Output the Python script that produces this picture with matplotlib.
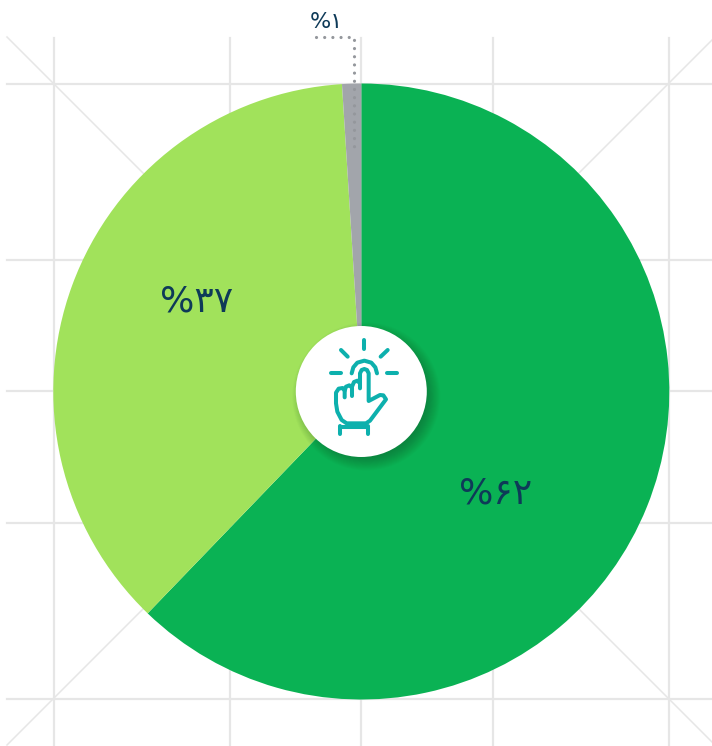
import numpy as np
import matplotlib
matplotlib.use('Agg')
import matplotlib.pyplot as plt
from matplotlib.patches import Circle

W, H = 712, 746

shares = [62.2, 36.8, 1]
labels = ['%۶۲', '%۳۷', '%۱']
colors = ['#0ab254', '#a1e25b', '#a2a5ab']
label_pos = [(496, 494), (197, 302), (326, 22)]
label_size = [26, 26, 16]

grid_x = [54, 230, 361, 493, 669]
grid_y = [84, 260, 391, 523, 699]

cx, cy, radius = 361.3, 391.5, 308


def fy(y):
    # picture is read top-down, axes go bottom-up
    return H - y


fig = plt.figure(figsize=(W / 100, H / 100), dpi=100)
ax = fig.add_axes([0, 0, 1, 1])

### background grid
for x in grid_x:
    ax.plot([x, x], [fy(38), fy(746)], color='#e6e6e6', lw=1.6, zorder=1)
for y in grid_y:
    ax.plot([7, 712], [fy(y), fy(y)], color='#e6e6e6', lw=1.6, zorder=1)
ax.plot([7, 712], [fy(37), fy(742)], color='#e6e6e6', lw=1.1, zorder=1)
ax.plot([7, 712], [fy(745), fy(40)], color='#e6e6e6', lw=1.1, zorder=1)

### pie
wedges, _ = ax.pie(shares, colors=colors, startangle=90, counterclock=False,
                   center=(cx, fy(cy)), radius=radius, frame=True,
                   wedgeprops={'linewidth': 0})
for w in wedges:
    w.set_zorder(2)

ax.set_xlim(0, W)
ax.set_ylim(0, H)
ax.set_aspect('equal')
ax.axis('off')

### leader line for the 1% slice
ax.plot([316, 353.5, 353.5], [fy(37), fy(37), fy(154)], color='#94979c', lw=2.3,
        linestyle=(0, (0.01, 2.55)), dash_capstyle='round', zorder=3)

### labels
for t, (x, y), s in zip(labels, label_pos, label_size):
    ax.text(x, fy(y), t, fontsize=s, color='#0e3a58', ha='center', va='center',
            family=['DejaVu Sans'], zorder=6)

### centre badge with soft shadow
for i in range(16):
    ax.add_patch(Circle((cx + 5, fy(cy + 5)), 65 + 9 - i * 0.9, color='#0a3d20',
                        alpha=0.022, lw=0, zorder=3.5))
ax.add_patch(Circle((cx, fy(cy)), 65.5, color='white', lw=0, zorder=4))


def z(pts):
    # positions taken from the 3x crop of the badge
    pts = np.array(pts, dtype=float)
    return 280 + pts[:, 0] / 3, fy(320 + pts[:, 1] / 3)


teal = '#0db0ad'
strokes = [
    [(253, 60), (253, 88)],
    [(183, 90), (203, 110)],
    [(323, 90), (302, 110)],
    [(153, 158), (183, 158)],
    [(322, 158), (352, 158)],
    # arc over the fingertip
    [(215, 160), (220, 142), (232, 128), (253, 122), (274, 128), (286, 142), (291, 160)],
    # pointing finger and thumb
    [(240, 205), (240, 160), (245, 150), (253, 147), (261, 150), (266, 160), (266, 243),
     (300, 225), (310, 226), (318, 238), (270, 302), (258, 310), (200, 310), (185, 300),
     (172, 275), (168, 250), (168, 218), (176, 206), (188, 204), (194, 212), (194, 232)],
    # small fingers
    [(194, 212), (198, 200), (208, 196), (216, 203), (216, 228)],
    [(216, 200), (222, 186), (232, 182), (240, 190)],
    # cuff
    [(181, 318), (181, 342)],
    [(264, 318), (264, 342)],
    [(181, 322), (264, 322)],
]
for s in strokes:
    xs, ys = z(s)
    ax.plot(xs, ys, color=teal, lw=2.9, solid_capstyle='round', solid_joinstyle='round', zorder=5)

fig.savefig('out.png', dpi=100)
